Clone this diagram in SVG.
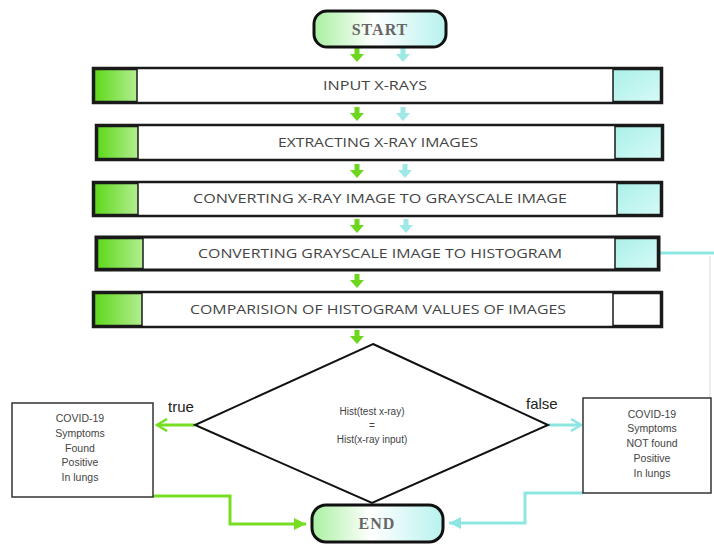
<svg xmlns="http://www.w3.org/2000/svg" width="714" height="547" viewBox="0 0 714 547">
<style>
.bg{fill:#ffffff}
.term{stroke:#111;stroke-width:3;fill:url(#termGrad)}
.termtxt{font-family:"Liberation Serif",serif;font-size:16px;font-weight:bold;fill:#666;text-anchor:middle;letter-spacing:1px}
.box{fill:#fff;stroke:#1a1a1a;stroke-width:2.5}
.gsq{fill:url(#greenGrad);stroke:#1a1a1a;stroke-width:1.5}
.csq{fill:url(#cyanGrad);stroke:#1a1a1a;stroke-width:1.5}
.wsq{fill:#fff;stroke:#1a1a1a;stroke-width:1.5}
.btxt{font-family:"Open Sans","Liberation Sans",sans-serif;font-size:12.5px;fill:#444;text-anchor:middle}
.dia{fill:#fff;stroke:#111;stroke-width:2}
.dtxt{font-family:"Liberation Sans",sans-serif;font-size:10px;fill:#444;text-anchor:middle}
.side{fill:#fff;stroke:#333;stroke-width:1.5}
.stxt{font-family:"Liberation Sans",sans-serif;font-size:10.5px;fill:#444;text-anchor:middle}
.lbl{font-family:"Liberation Sans",sans-serif;font-size:15px;fill:#222}
.gline{fill:none;stroke:#77dd22;stroke-width:3}
.cline{fill:none;stroke:#8ee6e2;stroke-width:3}
.garr{fill:#6ed61c}
.carr{fill:#9ee9e6}
</style>
<defs>
<linearGradient id="termGrad" x1="0" y1="0" x2="1" y2="0">
<stop offset="0" stop-color="#a8f0a0"/>
<stop offset="0.45" stop-color="#ffffff"/>
<stop offset="1" stop-color="#b8f2ee"/>
</linearGradient>
<linearGradient id="greenGrad" x1="0" y1="0" x2="1" y2="0">
<stop offset="0" stop-color="#5ed81a"/>
<stop offset="1" stop-color="#b2ee90"/>
</linearGradient>
<linearGradient id="cyanGrad" x1="0" y1="0" x2="1" y2="1">
<stop offset="0" stop-color="#aaf0e8"/>
<stop offset="1" stop-color="#d6faf6"/>
</linearGradient>
<path id="dArrow" d="M-2.5,0 H2.5 V6 H7 L0,14 L-7,6 H-2.5 Z"/>
<marker id="gOpen" markerWidth="14" markerHeight="14" refX="12" refY="7" orient="auto" markerUnits="userSpaceOnUse">
<path d="M2,1 L12,7 L2,13" fill="none" stroke="#77dd22" stroke-width="2.5"/>
</marker>
<marker id="cOpen" markerWidth="14" markerHeight="14" refX="12" refY="7" orient="auto" markerUnits="userSpaceOnUse">
<path d="M2,1 L12,7 L2,13" fill="none" stroke="#8ee6e2" stroke-width="2.5"/>
</marker>
<marker id="gFill" markerWidth="14" markerHeight="14" refX="12" refY="7" orient="auto" markerUnits="userSpaceOnUse">
<path d="M0,1 L12,7 L0,13 Z" fill="#77dd22"/>
</marker>
<marker id="cFill" markerWidth="14" markerHeight="14" refX="12" refY="7" orient="auto" markerUnits="userSpaceOnUse">
<path d="M0,1 L12,7 L0,13 Z" fill="#8ee6e2"/>
</marker>
</defs>
<rect class="bg" x="0" y="0" width="714" height="547"/>

<g id="connectors">
<use href="#dArrow" class="garr" x="357" y="48"/>
<use href="#dArrow" class="carr" x="403" y="48"/>
<use href="#dArrow" class="garr" x="357" y="107"/>
<use href="#dArrow" class="carr" x="403" y="107"/>
<use href="#dArrow" class="garr" x="357" y="164"/>
<use href="#dArrow" class="carr" x="405" y="164"/>
<use href="#dArrow" class="garr" x="357" y="219"/>
<use href="#dArrow" class="carr" x="406" y="219"/>
<use href="#dArrow" class="garr" x="357" y="274"/>
<use href="#dArrow" class="garr" x="357" y="330"/>
<path class="cline" d="M660,253 H714"/>
<path d="M710,256 V398" fill="none" stroke="#e6e6e6" stroke-width="1.5"/>
<path class="gline" d="M195,425 H157" marker-end="url(#gOpen)"/>
<path class="cline" d="M548,425 H581" marker-end="url(#cOpen)"/>
<path class="gline" d="M153,496 H230 V524 H306" marker-end="url(#gFill)"/>
<path class="cline" d="M583,493 H525 V523 H449" marker-end="url(#cFill)"/>
<text class="lbl" x="168" y="412">true</text>
<text class="lbl" x="526" y="409">false</text>
</g>

<g id="start">
<rect class="term" x="314" y="11" width="132" height="36" rx="13"/>
<text class="termtxt" x="380" y="35">START</text>
</g>

<g id="input-xrays">
<rect class="box" x="93" y="68" width="569" height="35"/>
<rect class="gsq" x="94.5" y="69.5" width="42.5" height="32"/>
<rect class="csq" x="613" y="69.5" width="47.5" height="32"/>
<text class="btxt" x="375" y="90" textLength="104" lengthAdjust="spacingAndGlyphs">INPUT X-RAYS</text>
</g>

<g id="extracting">
<rect class="box" x="96" y="125" width="567" height="35"/>
<rect class="gsq" x="97.5" y="126.5" width="40.5" height="32"/>
<rect class="csq" x="615" y="126.5" width="46.5" height="32"/>
<text class="btxt" x="378" y="147" textLength="200" lengthAdjust="spacingAndGlyphs">EXTRACTING X-RAY IMAGES</text>
</g>

<g id="converting-gray">
<rect class="box" x="93" y="182" width="569" height="34"/>
<rect class="gsq" x="94.5" y="183.5" width="43.5" height="31"/>
<rect class="csq" x="617" y="183.5" width="43.5" height="31"/>
<text class="btxt" x="380" y="203" textLength="374" lengthAdjust="spacingAndGlyphs">CONVERTING  X-RAY IMAGE TO GRAYSCALE IMAGE</text>
</g>

<g id="converting-hist">
<rect class="box" x="96" y="237" width="563" height="33" style="stroke-width:3"/>
<rect class="gsq" x="97.5" y="238.5" width="45.5" height="30"/>
<rect class="csq" x="615" y="238.5" width="42.5" height="30"/>
<text class="btxt" x="380" y="258" textLength="364" lengthAdjust="spacingAndGlyphs">CONVERTING GRAYSCALE IMAGE TO HISTOGRAM</text>
</g>

<g id="comparison">
<rect class="box" x="93" y="292" width="569" height="35"/>
<rect class="gsq" x="94.5" y="293.5" width="47.5" height="32"/>
<rect class="wsq" x="613" y="293.5" width="47.5" height="32"/>
<text class="btxt" x="378" y="314" textLength="376" lengthAdjust="spacingAndGlyphs">COMPARISION OF HISTOGRAM VALUES OF IMAGES</text>
</g>

<g id="decision">
<polygon class="dia" points="373,344 548,425 372,503 195,425"/>
<text class="dtxt" x="372" y="415">Hist(test x-ray)</text>
<text class="dtxt" x="372" y="429">=</text>
<text class="dtxt" x="372" y="443">Hist(x-ray input)</text>
</g>

<g id="found">
<rect class="side" x="12" y="403" width="141" height="94"/>
<text class="stxt" x="80" y="422">COVID-19</text>
<text class="stxt" x="80" y="437">Symptoms</text>
<text class="stxt" x="80" y="452">Found</text>
<text class="stxt" x="80" y="466">Positive</text>
<text class="stxt" x="80" y="481">In lungs</text>
</g>

<g id="not-found">
<rect class="side" x="583" y="398" width="128" height="95"/>
<text class="stxt" x="652" y="418">COVID-19</text>
<text class="stxt" x="652" y="432">Symptoms</text>
<text class="stxt" x="652" y="447">NOT found</text>
<text class="stxt" x="652" y="462">Positive</text>
<text class="stxt" x="652" y="477">In lungs</text>
</g>

<g id="end">
<rect class="term" x="312" y="505" width="131" height="37" rx="14"/>
<text class="termtxt" x="377" y="529">END</text>
</g>
</svg>
